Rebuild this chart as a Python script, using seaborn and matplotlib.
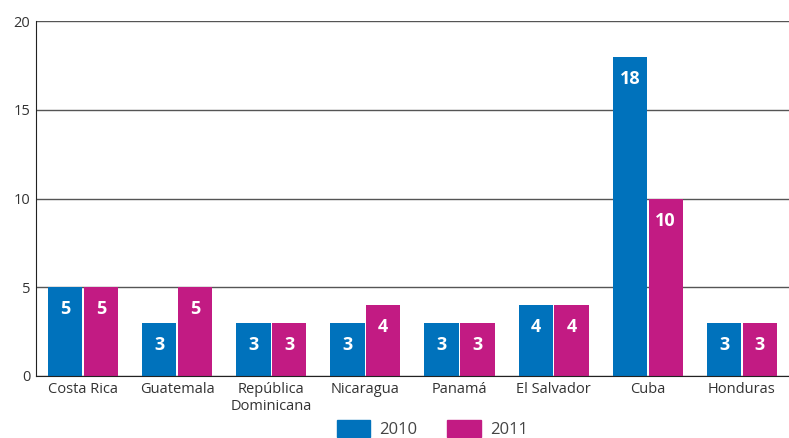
import pandas as pd
import numpy as np
import matplotlib.pyplot as plt
import seaborn as sns

# Data
countries = ["Costa Rica", "Guatemala", "República\nDominicana", "Nicaragua",
             "Panamá", "El Salvador", "Cuba", "Honduras"]
values_2010 = [5, 3, 3, 3, 3, 4, 18, 3]
values_2011 = [5, 5, 3, 4, 3, 4, 10, 3]
years = ["2010", "2011"]
colors = ["#0072BC", "#C21B83"]

df = pd.DataFrame({
    "Country": countries * 2,
    "Year": [years[0]] * len(countries) + [years[1]] * len(countries),
    "Value": values_2010 + values_2011,
})

sns.set_style("white")
plt.rcParams['font.family'] = ['Open Sans', 'DejaVu Sans']

fig = plt.figure(figsize=(7.89, 4.38), dpi=100)
ax = fig.add_axes([0.0456, 0.1416, 0.9544, 0.8104])

sns.barplot(data=df, x="Country", y="Value", hue="Year", palette=colors,
            width=0.76, gap=0.04, saturation=1, linewidth=0, ax=ax, legend=False)

# Value labels inside bar tops
for cont in ax.containers:
    for bar in cont:
        h = bar.get_height()
        ax.annotate(f"{h:.0f}", (bar.get_x() + bar.get_width() / 2, h),
                    xytext=(0, -16), textcoords="offset points",
                    ha="center", va="center", color="white",
                    fontsize=13, fontweight="bold")

ax.set_ylim(0, 20)
ax.set_xlim(-0.5, 7.5)
ax.set_yticks([0, 5, 10, 15, 20])
ax.yaxis.grid(True, color="#555555", linewidth=1)
ax.set_axisbelow(True)
for s in ["top", "right"]:
    ax.spines[s].set_visible(False)
ax.spines["left"].set_color("#222222")
ax.spines["bottom"].set_color("#222222")
ax.set_xlabel("")
ax.set_ylabel("")
ax.tick_params(axis="both", length=0, labelsize=10.5, colors="#333333", pad=4)
ax.set_xticks(np.arange(0.5, 7.5, 1), minor=True)
ax.tick_params(axis="x", which="minor", direction="in", length=6, color="#222222")

handles = [plt.Rectangle((0, 0), 1, 1, color=c) for c in colors]
fig.legend(handles, years, loc="lower center", bbox_to_anchor=(0.548, -0.035),
           ncol=2, frameon=False, fontsize=12, handlelength=2.0, handleheight=1.2,
           handletextpad=0.55, columnspacing=1.8, labelcolor="#444444")

fig.savefig("out.png", dpi=100)
